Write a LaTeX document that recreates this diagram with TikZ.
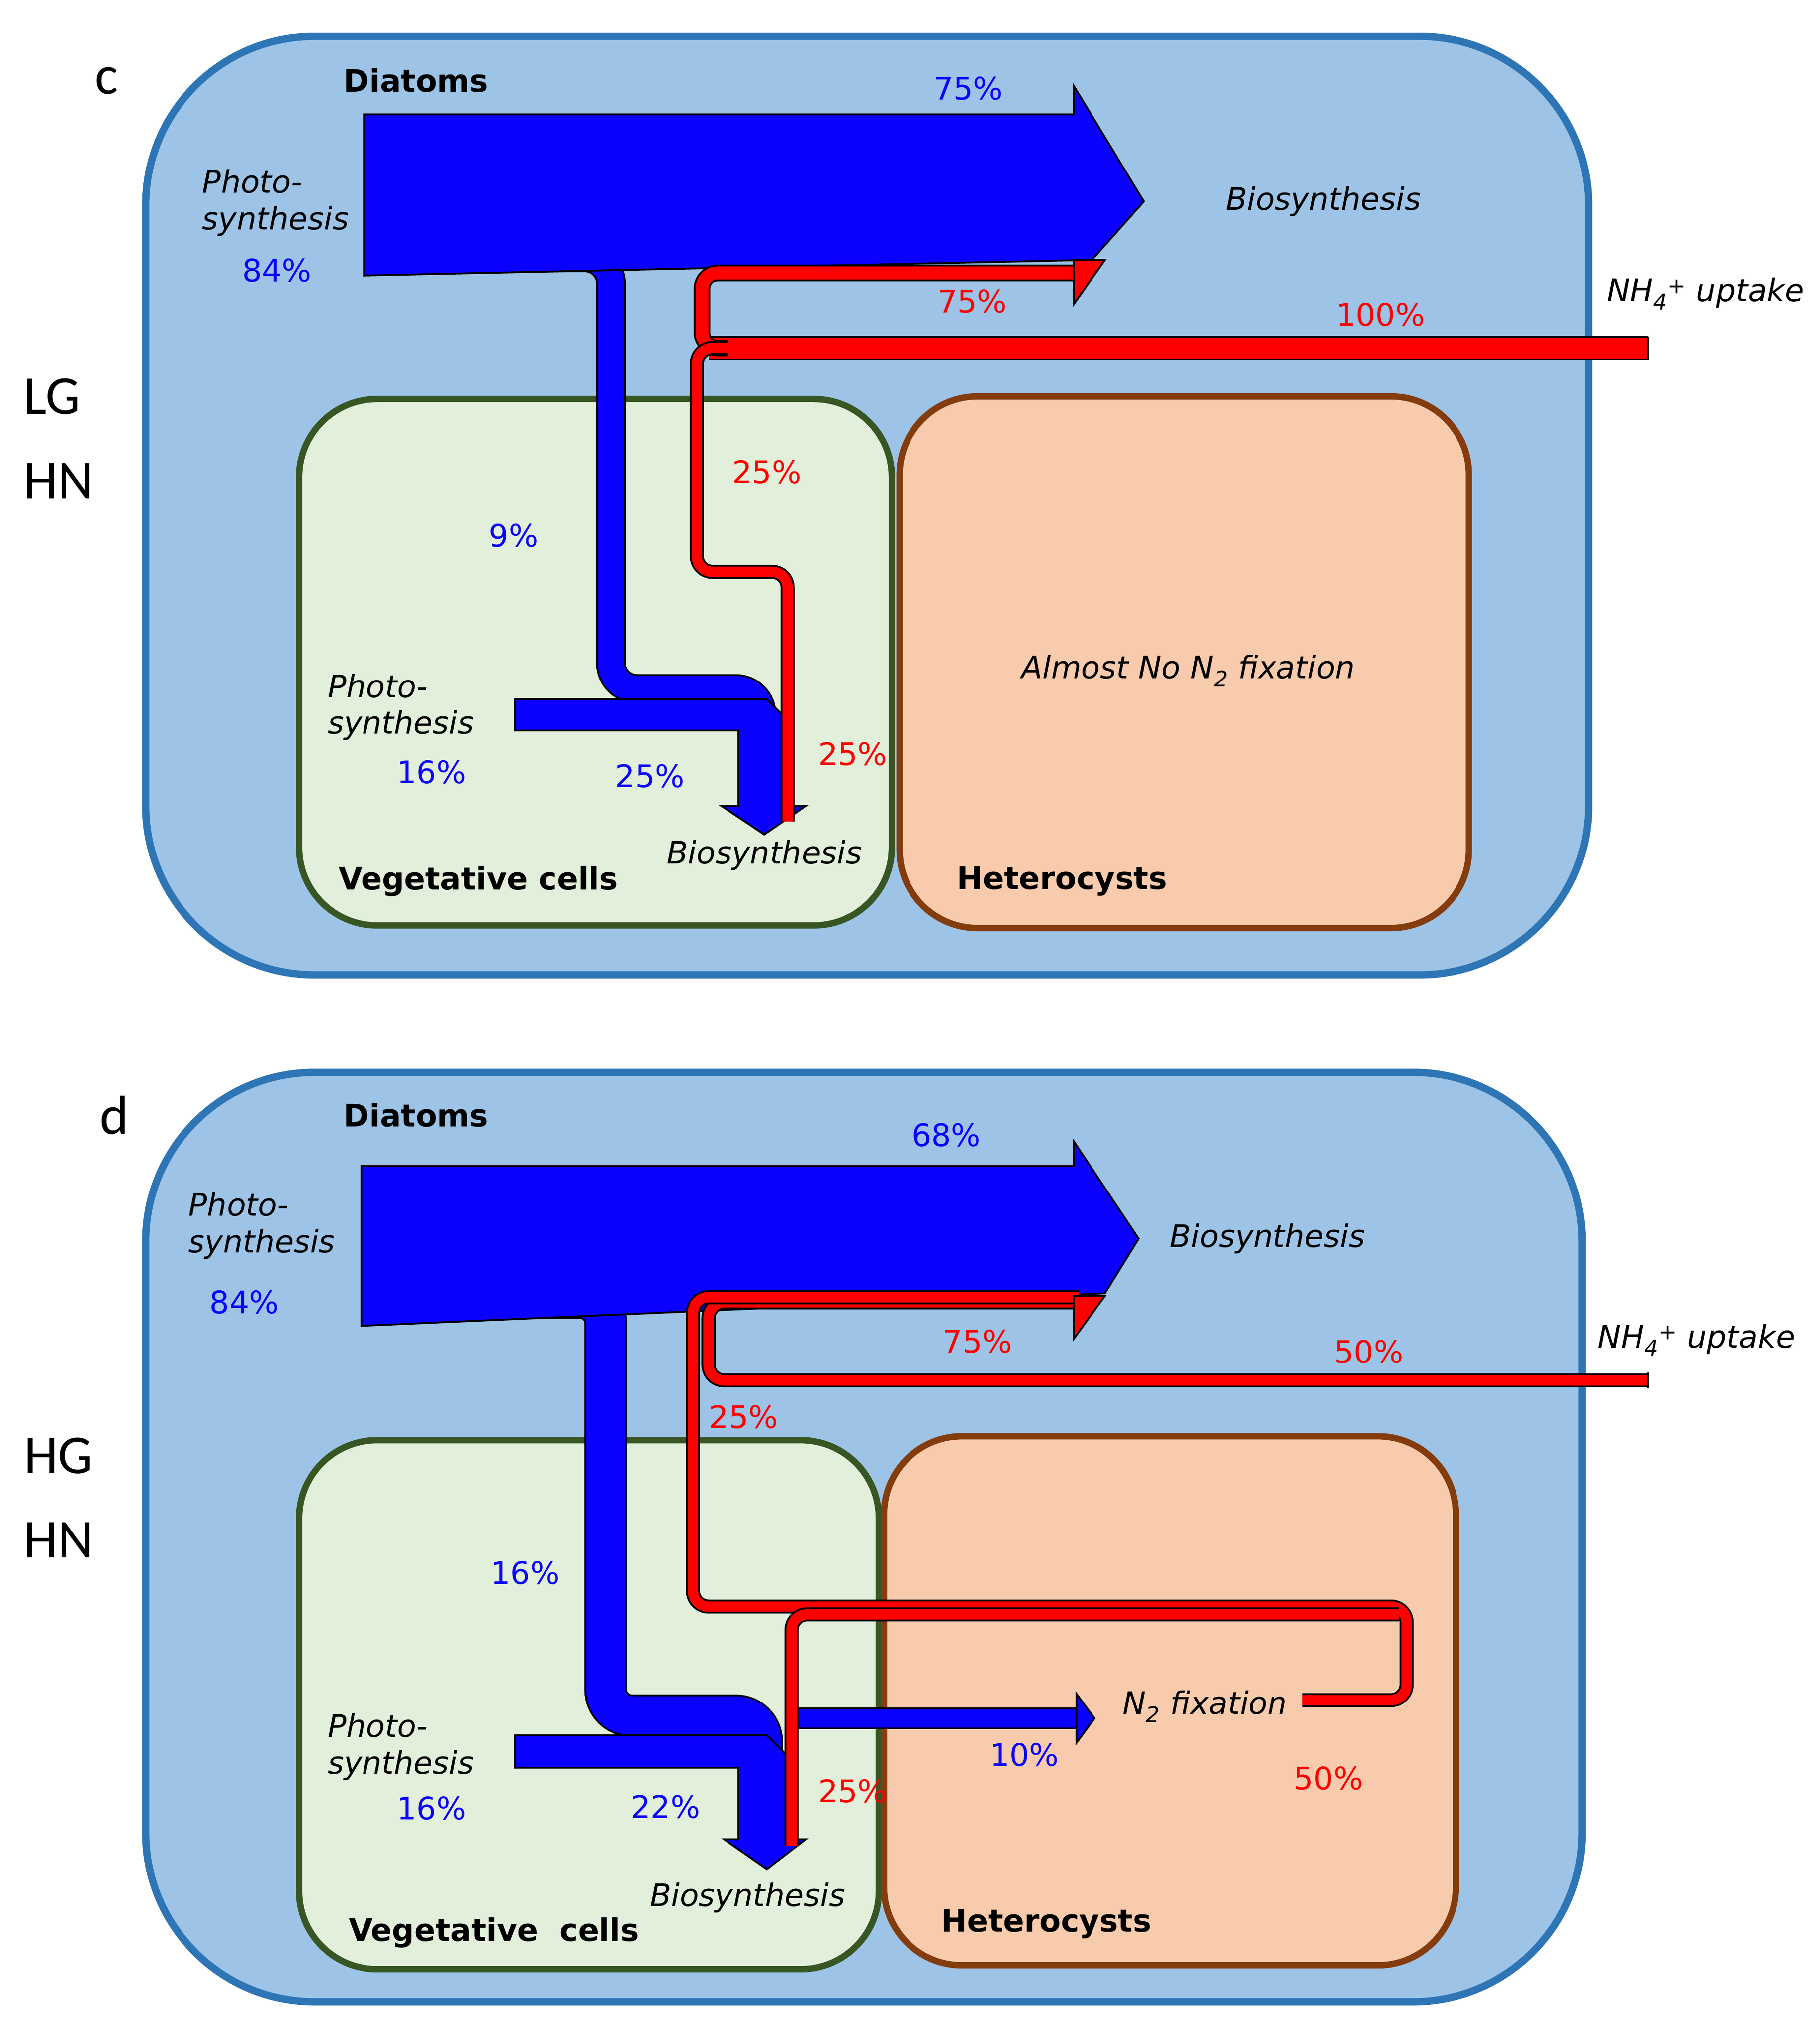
\documentclass[tikz,border=0pt]{standalone}
\usepackage{fontspec}
\setmainfont{DejaVu Sans}
\newfontfamily\bigf{Carlito}
\definecolor{outerF}{HTML}{9DC3E6}\definecolor{outerD}{HTML}{2E75B6}
\definecolor{vegF}{HTML}{E2EFDA}\definecolor{vegD}{HTML}{375623}
\definecolor{hetF}{HTML}{F8CBAD}\definecolor{hetD}{HTML}{843C0C}
\definecolor{fb}{HTML}{0A00FF}\definecolor{fr}{HTML}{FF0000}
\newcommand{\nhf}{NH\textsubscript{4}\textsuperscript{+}}
\begin{document}
\begin{tikzpicture}[x=0.05cm,y=-0.05cm,
 outer/.style={fill=outerF,draw=outerD,line width=8pt,rounded corners=6.5cm},
 veg/.style={fill=vegF,draw=vegD,line width=7pt,rounded corners=3cm},
 het/.style={fill=hetF,draw=hetD,line width=7pt,rounded corners=3cm},
 bflow/.style={draw=black,line width=2pt,double=fb,rounded corners=1cm},
 rflow/.style={draw=black,line width=2pt,double=fr,rounded corners=0.6cm},
 bpoly/.style={fill=fb,draw=black,line width=2pt},
 rpoly/.style={fill=fr,draw=black,line width=2pt},
 t/.style={font=\fontsize{34}{40}\selectfont,inner sep=0},
 ti/.style={t,font=\fontsize{34}{40}\selectfont\itshape},
 tb/.style={t,font=\fontsize{34}{40}\selectfont\bfseries},
 big/.style={inner sep=0,font=\bigf\fontsize{60}{70}\selectfont},
 bl/.style={t,text=fb},rd/.style={t,text=fr}]
\useasboundingbox (0,0) rectangle (1400,1571);
% ===== panel c =====
\draw[outer] (112,28) rectangle (1222,750);
\draw[veg] (230,307) rectangle (686,712);
\draw[het] (692,305) rectangle (1130,714);
\draw[bflow,double distance=1cm] (410,198) -| (470,530) -| (586,600);
\draw[bpoly] (280,88)--(826,88)--(826,66)--(880,155)--(840,200)--(280,212)--cycle;
\draw[bpoly] (396,538)--(590,538)--(605,553)--(605,620)--(620,620)--(588,642)--(555,620)--(568,620)--(568,562)--(396,562)--cycle;
\draw[rflow,double distance=0.8cm] (1268,268) -- (545,268);
\draw[rflow,double distance=0.5cm] (560,268) -| (540,210) -- (830,210);
\draw[rpoly] (826,200)--(850,200)--(826,234)--cycle;
\draw[rflow,double distance=0.4cm] (560,268) -| (536,440) -| (606,632);
\draw[fr,line width=0.8cm] (1266,268)--(560,268);
\draw[black,line width=2pt] (1268,259)--(1268,277);
\node[big] (c) at (82,62) {c};
\node[big] (lg) at (40,305) {LG};
\node[big] (hn) at (45,370) {HN};
\node[tb] (dia) at (320,62) {Diatoms};
\node[ti,align=left] (ps1) at (212,156) {Photo-\\synthesis};
\node[bl] (p84) at (213,208) {84\%};
\node[bl] (p75) at (745,68) {75\%};
\node[ti] (bio1) at (1018,155) {Biosynthesis};
\node[ti] (nh1) at (1312,226) {\nhf\ uptake};
\node[rd] (r75) at (748,232) {75\%};
\node[rd] (r100) at (1062,242) {100\%};
\node[rd] (r25a) at (590,363) {25\%};
\node[bl] (p9) at (395,412) {9\%};
\node[ti] (alm) at (914,516) {Almost No N\textsubscript{2} fixation};
\node[ti,align=left,anchor=west] (ps2) at (252,544) {Photo-\\synthesis};
\node[bl] (p16) at (332,594) {16\%};
\node[bl] (p25) at (500,597) {25\%};
\node[rd] (r25b) at (656,580) {25\%};
\node[ti] (bio2) at (588,658) {Biosynthesis};
\node[tb] (vc1) at (368,678) {Vegetative cells};
\node[tb] (ht1) at (817,678) {Heterocysts};
% ===== panel d =====
\draw[outer] (112,825) rectangle (1217,1540);
\draw[veg] (230,1108) rectangle (676,1515);
\draw[het] (680,1105) rectangle (1120,1512);
\draw[bflow,double distance=1.5cm] (420,998) -| (466,1320) -| (586,1400);
\draw[bflow,double distance=0.7cm,rounded corners=0] (604,1322) -- (830,1322);
\draw[bpoly] (828,1303)--(842,1322)--(828,1341)--cycle;
\draw[bpoly] (278,897)--(826,897)--(826,878)--(876,953)--(850,995)--(278,1020)--cycle;
\draw[bpoly] (396,1335)--(590,1335)--(605,1350)--(605,1415)--(620,1415)--(590,1438)--(557,1415)--(568,1415)--(568,1360)--(396,1360)--cycle;
\draw[rflow,double distance=0.4cm] (1268,1062) -- (545,1062) |- (830,1002);
\draw[black,line width=2pt] (1268,1056)--(1268,1068);
\draw[rflow,double distance=0.4cm] (830,998) -| (533,1236) -| (1082,1308) -- (1002,1308);
\draw[rflow,double distance=0.4cm] (1076,1242) -| (609,1420);
\draw[rpoly] (826,997)--(850,997)--(826,1030)--cycle;
\node[big] (d) at (88,858) {d};
\node[big] (hg) at (45,1120) {HG};
\node[big] (hn2) at (45,1185) {HN};
\node[tb] (dia2) at (320,858) {Diatoms};
\node[ti,align=left,anchor=west] (ps3) at (145,943) {Photo-\\synthesis};
\node[bl] (q84) at (188,1002) {84\%};
\node[bl] (q68) at (728,873) {68\%};
\node[ti] (bio3) at (975,953) {Biosynthesis};
\node[ti] (nh2) at (1305,1031) {\nhf\ uptake};
\node[rd] (s75) at (752,1032) {75\%};
\node[rd] (s50) at (1053,1040) {50\%};
\node[rd] (s25) at (572,1090) {25\%};
\node[bl] (q16a) at (404,1210) {16\%};
\node[ti] (n2f) at (927,1313) {N\textsubscript{2} fixation};
\node[bl] (q10) at (788,1350) {10\%};
\node[rd] (s50b) at (1022,1368) {50\%};
\node[ti,align=left,anchor=west] (ps4) at (252,1344) {Photo-\\synthesis};
\node[bl] (q16) at (332,1391) {16\%};
\node[bl] (q22) at (512,1390) {22\%};
\node[rd] (s25b) at (656,1378) {25\%};
\node[ti] (bio4) at (575,1460) {Biosynthesis};
\node[tb] (vc2) at (380,1487) {Vegetative\ \ cells};
\node[tb] (ht2) at (805,1480) {Heterocysts};
\end{tikzpicture}
\end{document}
